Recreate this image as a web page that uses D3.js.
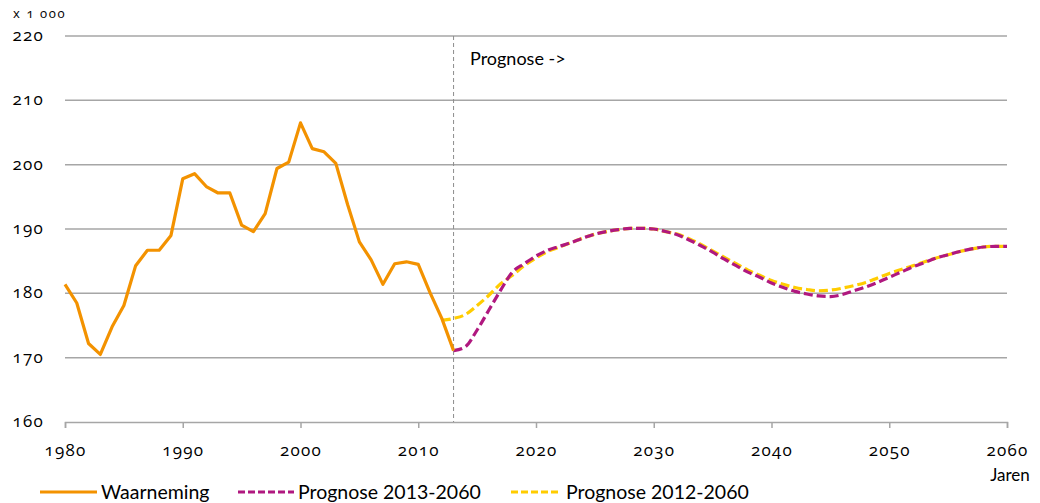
<!DOCTYPE html>
<html><head><meta charset="utf-8">
<script src="https://cdn.jsdelivr.net/npm/d3@7"></script>
<style>
body{margin:0;background:#fff;}
svg{font-family:Lato,"Open Sans",sans-serif;}
.num{font-family:"Open Sans",sans-serif;font-variant-numeric:oldstyle-nums;font-feature-settings:"onum" 1;}
</style></head>
<body><svg id="c" width="1040" height="503"></svg>
<script>
const obsYears = d3.range(1980, 2014);
const obsValues = [181.4,178.5,172.2,170.5,174.8,178.1,184.3,186.7,186.7,189.0,
  197.8,198.6,196.6,195.6,195.6,190.6,189.6,192.4,199.4,200.4,
  206.5,202.5,202.0,200.2,193.8,188.0,185.2,181.4,184.6,184.9,
  184.5,180.1,176.1,171.1];
const prog13Years = d3.range(2013, 2061);
const prog13Values = [171.1,171.7,174.3,177.4,180.5,183.3,184.6,
  185.8,186.7,187.3,187.9,188.6,189.2,189.6,189.9,190.1,190.1,
  190.0,189.6,189.1,188.3,187.4,186.4,185.3,184.3,183.3,182.5,
  181.6,180.9,180.3,179.9,179.6,179.5,179.8,180.4,181.0,181.7,
  182.5,183.3,184.1,184.8,185.5,186.0,186.5,186.9,187.2,187.3,187.3];
const prog12Years = d3.range(2012, 2061);
const prog12Values = [175.8,176.1,176.7,178.1,179.7,181.5,182.8,184.3,
  185.5,186.5,187.2,187.9,188.6,189.2,189.6,189.9,190.1,190.1,
  190.0,189.6,189.2,188.5,187.6,186.6,185.6,184.6,183.6,182.8,
  182.0,181.4,180.9,180.6,180.4,180.5,180.8,181.2,181.7,182.4,
  183.1,183.7,184.3,184.9,185.5,186.0,186.5,186.9,187.2,187.3,187.3];
const yTicks = [160,170,180,190,200,210,220];
const xTicks = [1980,1990,2000,2010,2020,2030,2040,2050,2060];
const seriesNames = ["Waarneming","Prognose 2013-2060","Prognose 2012-2060"];
const colors = ["#f39200","#b0187f","#ffcc00"];

const svg = d3.select("#c");
const x = d3.scaleLinear().domain([1980,2060]).range([65,1007]);
const y = d3.scaleLinear().domain([160,220]).range([422,36]);

// gridlines
svg.append("g").selectAll("line").data(yTicks.filter(d=>d>160)).join("line")
  .attr("x1",65).attr("x2",1007).attr("y1",d=>y(d)).attr("y2",d=>y(d))
  .attr("stroke","#a6a6a6").attr("stroke-width",1.5);

// y labels
svg.append("g").selectAll("text").data(yTicks).join("text")
  .attr("class","num").attr("x",44).attr("y",d=>y(d)+5)
  .attr("text-anchor","end").attr("font-size",17).attr("fill","#000")
  .attr("letter-spacing",1.2).text(d=>d);
svg.append("text").attr("class","num").attr("x",13).attr("y",18)
  .attr("font-size",13).attr("letter-spacing",1.6).text("x 1 000");

// x axis
const xa = svg.append("g").attr("transform","translate(0,422)")
  .call(d3.axisBottom(x).tickValues(xTicks).tickSize(6).tickPadding(16).tickFormat(d3.format("d")));
xa.select(".domain").attr("stroke","#a6a6a6").attr("stroke-width",1.5);
xa.selectAll(".tick line").attr("stroke","#a6a6a6").attr("stroke-width",1.5);
xa.selectAll(".tick text").attr("class","num").attr("font-size",17)
  .attr("fill","#000").attr("letter-spacing",1.2);
svg.append("text").attr("x",1010).attr("y",481).attr("text-anchor","middle")
  .attr("font-size",17).text("Jaren");

// prognose vertical line
svg.append("line").attr("x1",x(2013)).attr("x2",x(2013)).attr("y1",36).attr("y2",422)
  .attr("stroke","#8c8c8c").attr("stroke-width",1).attr("stroke-dasharray","4,3");
svg.append("text").attr("x",470).attr("y",65).attr("font-size",18).text("Prognose ->");

const line = d3.line().x(d=>x(d[0])).y(d=>y(d[1])).curve(d3.curveMonotoneX);
const lineObs = d3.line().x(d=>x(d[0])).y(d=>y(d[1]));

svg.append("path").datum(d3.zip(prog12Years,prog12Values)).attr("d",line)
  .attr("fill","none").attr("stroke",colors[2]).attr("stroke-width",3.2).attr("stroke-dasharray","9,4");
svg.append("path").datum(d3.zip(prog13Years,prog13Values)).attr("d",line)
  .attr("fill","none").attr("stroke",colors[1]).attr("stroke-width",3.2).attr("stroke-dasharray","9,4");
svg.append("path").datum(d3.zip(obsYears,obsValues)).attr("d",lineObs)
  .attr("fill","none").attr("stroke",colors[0]).attr("stroke-width",3.2).attr("stroke-linejoin","round");

// legend
const leg = [{x1:40,x2:97,tx:101},{x1:238,x2:294,tx:298},{x1:511,x2:561,tx:566}];
leg.forEach((l,i)=>{
  svg.append("line").attr("x1",l.x1).attr("x2",l.x2).attr("y1",492).attr("y2",492)
    .attr("stroke",colors[i]).attr("stroke-width",3.2).attr("stroke-dasharray",i?"7,3":null);
  svg.append("text").attr("x",l.tx).attr("y",499).attr("font-size",19.5).text(seriesNames[i]);
});
</script></body></html>
